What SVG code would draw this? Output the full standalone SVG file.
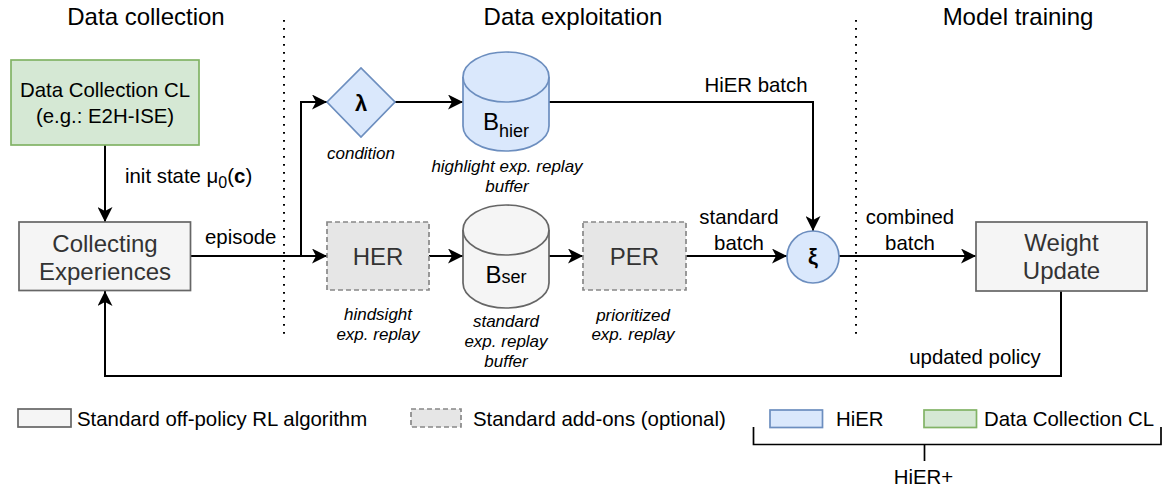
<svg xmlns="http://www.w3.org/2000/svg" width="1164" height="489" viewBox="0 0 1164 489">
<defs>
<marker id="ah" markerWidth="16" markerHeight="15" viewBox="0 0 16 15" refX="15" refY="7.5" orient="auto" markerUnits="userSpaceOnUse"><path d="M0,0 L15,7.5 L0,15 L4,7.5 Z" fill="#000"/></marker>
</defs>
<style>
text{font-family:"Liberation Sans",Arial,sans-serif;fill:#000}
.title{font-size:24px;text-anchor:middle}
.lbl{font-size:20.4px}
.mid{text-anchor:middle}
.it{font-size:17px;font-style:italic;text-anchor:middle}
.box{font-size:24px;text-anchor:middle;fill:#333}
.std{fill:#f5f5f5;stroke:#666;stroke-width:1.7}
.add{fill:#e6e6e6;stroke:#888;stroke-width:1.7;stroke-dasharray:5 3}
.hier{fill:#dae8fc;stroke:#6c8ebf;stroke-width:1.7}
.cl{fill:#d5e8d4;stroke:#82b366;stroke-width:1.7}
.con{fill:none;stroke:#000;stroke-width:2}
.dot{fill:none;stroke:#000;stroke-width:2;stroke-dasharray:1.7 6.3}
</style>
<rect width="1164" height="489" fill="#fff"/>
<g id="titles">
<text class="title" x="146" y="25">Data collection</text>
<text class="title" x="573" y="25">Data exploitation</text>
<text class="title" x="1018" y="25">Model training</text>
</g>
<g id="separators">
<line class="dot" x1="284" y1="20" x2="284" y2="338"/>
<line class="dot" x1="856" y1="20" x2="856" y2="334"/>
</g>
<g id="connectors">
<path class="con" d="M105,145 V222" marker-end="url(#ah)"/>
<path class="con" d="M190.5,256 H327" marker-end="url(#ah)"/>
<path class="con" d="M301,256 V102 H327" marker-end="url(#ah)"/>
<path class="con" d="M395,102 H463" marker-end="url(#ah)"/>
<path class="con" d="M549,102 H813 V231" marker-end="url(#ah)"/>
<path class="con" d="M429,256 H463" marker-end="url(#ah)"/>
<path class="con" d="M549,256 H583" marker-end="url(#ah)"/>
<path class="con" d="M686,256 H787" marker-end="url(#ah)"/>
<path class="con" d="M839,256 H976" marker-end="url(#ah)"/>
<path class="con" d="M1061,291 V376 H105 V291" marker-end="url(#ah)"/>
<text class="lbl" x="125" y="183">init state μ<tspan font-size="16" dy="5">0</tspan><tspan dy="-5">(</tspan><tspan font-weight="bold">c</tspan>)</text>
<text class="lbl" x="205" y="244">episode</text>
<text class="lbl mid" x="756" y="92">HiER batch</text>
<text class="lbl mid" x="739" y="224">standard</text>
<text class="lbl mid" x="739" y="250">batch</text>
<text class="lbl mid" x="910" y="224">combined</text>
<text class="lbl mid" x="910" y="250">batch</text>
<text class="lbl mid" x="975" y="364">updated policy</text>
</g>
<g id="dc-cl">
<rect class="cl" x="11" y="60" width="188" height="85"/>
<text class="lbl mid" x="105" y="97">Data Collection CL</text>
<text class="lbl mid" x="105" y="123">(e.g.: E2H-ISE)</text>
</g>
<g id="collecting">
<rect class="std" x="19" y="222" width="171.5" height="68.5"/>
<text class="box" x="105" y="251.5">Collecting</text>
<text class="box" x="105" y="280">Experiences</text>
</g>
<g id="condition">
<path class="hier" d="M327,102 L361,68 L395,102 L361,137 Z"/>
<text x="361" y="111" font-size="22" font-weight="bold" text-anchor="middle">λ</text>
<text class="it" x="361" y="159">condition</text>
</g>
<g id="bhier">
<path class="hier" d="M463,77 A43,25 0 0 1 549,77 V126 A43,25 0 0 1 463,126 Z"/>
<path class="hier" fill="none" d="M463,77 A43,25 0 0 0 549,77"/>
<text x="506" y="130" font-size="24" text-anchor="middle">B<tspan font-size="18" dy="7">hier</tspan></text>
<text class="it" x="507" y="172">highlight exp. replay</text>
<text class="it" x="507" y="192">buffer</text>
</g>
<g id="her">
<rect class="add" x="327" y="222" width="102" height="68"/>
<text class="box" x="378" y="264.5">HER</text>
<text class="it" x="378" y="320">hindsight</text>
<text class="it" x="378" y="340">exp. replay</text>
</g>
<g id="bser">
<path class="std" d="M463,230 A43,25 0 0 1 549,230 V283 A43,25 0 0 1 463,283 Z"/>
<path class="std" fill="none" d="M463,230 A43,25 0 0 0 549,230"/>
<text x="506" y="283" font-size="24" text-anchor="middle" fill="#333">B<tspan font-size="18">ser</tspan></text>
<text class="it" x="506" y="327">standard</text>
<text class="it" x="506" y="347">exp. replay</text>
<text class="it" x="506" y="367">buffer</text>
</g>
<g id="per">
<rect class="add" x="583" y="222" width="103" height="68"/>
<text class="box" x="634.5" y="264.5">PER</text>
<text class="it" x="633" y="321">prioritized</text>
<text class="it" x="633" y="340">exp. replay</text>
</g>
<g id="xi">
<circle class="hier" cx="813" cy="257" r="26"/>
<text x="813" y="264" font-size="22" font-weight="bold" text-anchor="middle">ξ</text>
</g>
<g id="weight-update">
<rect class="std" x="976" y="222" width="171" height="69"/>
<text class="box" x="1061.5" y="251">Weight</text>
<text class="box" x="1061.5" y="279">Update</text>
</g>
<g id="legend">
<rect class="std" x="18" y="409" width="53" height="18"/>
<text class="lbl" x="77" y="425.5">Standard off-policy RL algorithm</text>
<rect class="add" x="411" y="409" width="50" height="18"/>
<text class="lbl" x="473" y="425.5">Standard add-ons (optional)</text>
<rect class="hier" x="770" y="410" width="52.5" height="17.5"/>
<text class="lbl" x="836" y="425.5">HiER</text>
<rect class="cl" x="924" y="410" width="52.5" height="17.5"/>
<text class="lbl" x="984" y="425.5">Data Collection CL</text>
<path fill="none" stroke="#000" stroke-width="1.7" d="M753.5,427 V444.5 H1161 V427 M924.5,444.5 V461"/>
<text class="lbl mid" x="923.5" y="484">HiER+</text>
</g>
</svg>
